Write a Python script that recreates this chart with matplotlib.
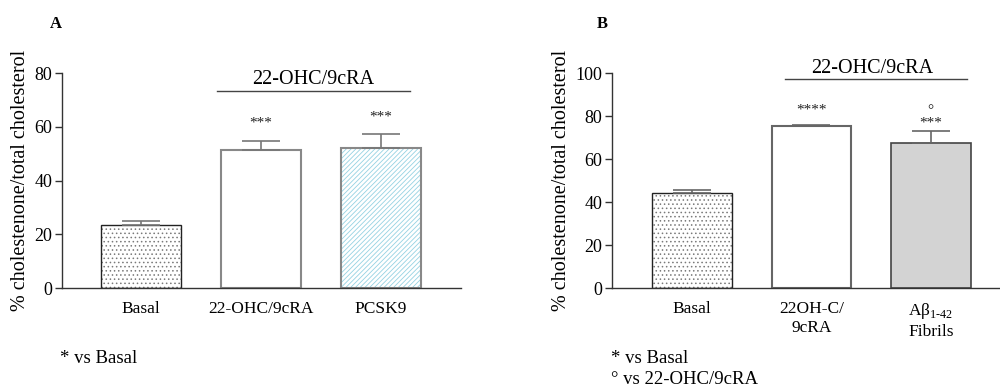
import numpy as np
import matplotlib.pyplot as plt

plt.rcParams['font.family'] = ['Liberation Serif', 'DejaVu Serif']
plt.rcParams['mathtext.fontset'] = 'custom'
plt.rcParams['mathtext.rm'] = 'Liberation Serif'
plt.rcParams['hatch.linewidth'] = 0.6

# panel A
labels_a = ['Basal', '22-OHC/9cRA', 'PCSK9']
mean_a = [23.4, 51.2, 52.0]
err_a = [1.6, 3.6, 5.2]
stars_a = ['', '***', '***']

# panel B
labels_b = ['Basal', '22OH-C/\n9cRA', 'A\u03b2$_{\\mathrm{1\u201042}}$\nFibrils']
mean_b = [44.0, 75.5, 67.3]
err_b = [1.6, 0.5, 5.7]
stars_b = ['', '****', '\u00b0\n***']

fig = plt.figure(figsize=(10, 3.9), dpi=100)

def style(ax, ymax, step):
    for s in ['top', 'right']:
        ax.spines[s].set_visible(False)
    for s in ['left', 'bottom']:
        ax.spines[s].set_color('#333333')
        ax.spines[s].set_linewidth(1.0)
    ax.set_ylim(0, ymax)
    ax.set_yticks(np.arange(0, ymax + 1, step))
    ax.tick_params(axis='y', length=5, width=1, color='#333333', labelsize=13, pad=2)
    ax.tick_params(axis='x', length=0, labelsize=12.5, pad=9)
    ax.set_ylabel('% cholestenone/total cholesterol', fontsize=14.5, labelpad=3)

def dotted_bar(ax, xi, h, w):
    ax.bar(xi, h, w, color='white', edgecolor='#7a7a7a', hatch='....', lw=0)
    ax.bar(xi, h, w, color='none', edgecolor='#222222', lw=1.0)

x = np.arange(3)
w = 0.667

# ---- A ----
axA = fig.add_axes([0.062, 0.2615, 0.399, 0.5513])
dotted_bar(axA, x[0], mean_a[0], w)
axA.bar(x[1], mean_a[1], w, color='white', edgecolor='#888888', lw=1.5)
axA.bar(x[2], mean_a[2], w, color='white', edgecolor='#95d2e2', hatch='///////', lw=0)
axA.bar(x[2], mean_a[2], w, color='none', edgecolor='#888888', lw=1.5)
axA.errorbar(x, mean_a, yerr=[np.zeros(3), err_a], fmt='none', ecolor='#777777',
             elinewidth=1.2, capsize=14, capthick=1.2)
axA.set_xlim(-0.658, 2.667)
style(axA, 80, 20)
axA.set_xticks(x)
axA.set_xticklabels(labels_a)
for i in range(3):
    if stars_a[i]:
        axA.text(x[i], mean_a[i] + err_a[i] + 6.5, stars_a[i], ha='center', va='center',
                 fontsize=11, color='#222222')
axA.plot([0.633, 2.242], [73.3, 73.3], color='#444444', lw=1, clip_on=False)
axA.text(1.433, 77.5, '22-OHC/9cRA', ha='center', va='center', fontsize=14.5)
fig.text(0.050, 0.938, 'A', fontsize=12, fontweight='bold', va='center')
fig.text(0.060, 0.082, '* vs Basal', fontsize=13.5, va='center')

# ---- B ----
axB = fig.add_axes([0.612, 0.2615, 0.388, 0.5513])
dotted_bar(axB, x[0], mean_b[0], w)
axB.bar(x[1], mean_b[1], w, color='white', edgecolor='#666666', lw=1.5)
axB.bar(x[2], mean_b[2], w, color='#d3d3d3', edgecolor='#444444', lw=1.2)
axB.errorbar(x, mean_b, yerr=[np.zeros(3), err_b], fmt='none', ecolor='#666666',
             elinewidth=1.2, capsize=14, capthick=1.2)
axB.set_xlim(-0.67, 2.58)
style(axB, 100, 20)
axB.set_xticks(x)
axB.set_xticklabels(labels_b, linespacing=1.25)
axB.text(x[1], 83.0, stars_b[1], ha='center', va='center', fontsize=11, color='#222222')
axB.text(x[2], 79.5, stars_b[2], ha='center', va='center', fontsize=11,
         linespacing=0.9, color='#222222')
axB.plot([0.78, 2.30], [97.2, 97.2], color='#444444', lw=1, clip_on=False)
axB.text(1.51, 102.0, '22-OHC/9cRA', ha='center', va='center', fontsize=14.5)
fig.text(0.597, 0.938, 'B', fontsize=12, fontweight='bold', va='center')
fig.text(0.611, 0.082, '* vs Basal', fontsize=13.5, va='center')
fig.text(0.611, 0.026, '\u00b0 vs 22-OHC/9cRA', fontsize=13.5, va='center')

fig.savefig('out.png', dpi=100)
